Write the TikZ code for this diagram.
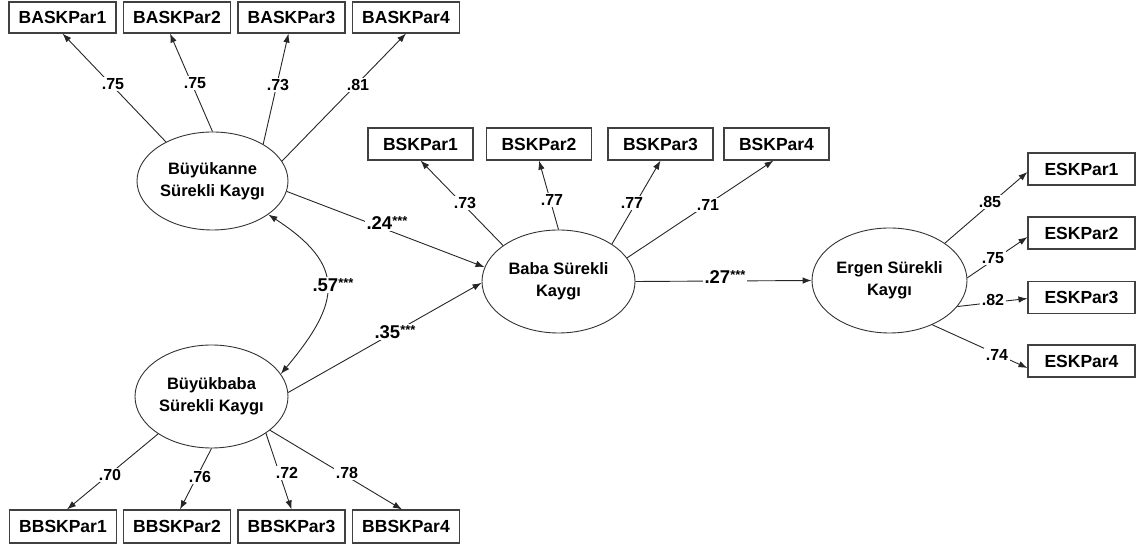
\documentclass[tikz,border=0pt]{standalone}
\usepackage{fontspec}
\setmainfont{Liberation Sans}
\usetikzlibrary{arrows.meta,shapes.geometric}
\tikzset{
  obs/.style={draw=black!75, line width=1.1pt, rectangle, minimum width=107pt, minimum height=31pt, inner sep=0pt, font=\bfseries\fontsize{17.5}{20}\selectfont},
  lat/.style={draw=black!80, line width=0.9pt, ellipse, inner xsep=-6pt, inner ysep=0pt, align=center, font=\bfseries\fontsize{16.5}{22}\selectfont},
  conn/.style={draw=black!85, line width=0.9pt, -{Latex[length=9pt,width=6.5pt]}},
  biconn/.style={draw=black!85, line width=0.9pt, {Latex[length=9pt,width=6.5pt]}-{Latex[length=9pt,width=6.5pt]}},
  load/.style={fill=white, inner sep=1.5pt, font=\bfseries\fontsize{16}{18}\selectfont},
  path/.style={fill=white, inner sep=1.5pt, font=\bfseries\fontsize{18.5}{20}\selectfont}
}
\newcommand{\stars}{\raisebox{4pt}{\fontsize{13}{13}\selectfont ***}}
\begin{document}
\begin{tikzpicture}[x=1pt,y=1pt]
\useasboundingbox (0,0) rectangle (1142,548);
% observed boxes
\node[obs] (a1) at (62.5,530.5) {BASKPar1};
\node[obs] (a2) at (177,530.5) {BASKPar2};
\node[obs] (a3) at (291.5,530.5) {BASKPar3};
\node[obs] (a4) at (406,530.5) {BASKPar4};
\node[obs, minimum width=105pt, minimum height=32pt] (b1) at (420.5,404) {BSKPar1};
\node[obs, minimum width=105pt, minimum height=32pt] (b2) at (539,404) {BSKPar2};
\node[obs, minimum width=105pt, minimum height=32pt] (b3) at (660.5,404) {BSKPar3};
\node[obs, minimum width=105pt, minimum height=32pt] (b4) at (776.5,404) {BSKPar4};
\node[obs, minimum height=32pt] (e1) at (1081.5,379) {ESKPar1};
\node[obs, minimum height=32pt] (e2) at (1081.5,315) {ESKPar2};
\node[obs, minimum height=32pt] (e3) at (1081.5,250.5) {ESKPar3};
\node[obs, minimum height=32pt] (e4) at (1081.5,187) {ESKPar4};
\node[obs, minimum height=33pt] (g1) at (63,21.5) {BBSKPar1};
\node[obs, minimum height=33pt] (g2) at (177,21.5) {BBSKPar2};
\node[obs, minimum height=33pt] (g3) at (291.5,21.5) {BBSKPar3};
\node[obs, minimum height=33pt] (g4) at (406,21.5) {BBSKPar4};
% latent ellipses
\node[lat, minimum width=151pt, minimum height=98pt] (bka) at (212.5,367) {Büyükanne\\Sürekli Kaygı};
\node[lat, minimum width=153pt, minimum height=103pt] (bkb) at (211.5,151.5) {Büyükbaba\\Sürekli Kaygı};
\node[lat, minimum width=153pt, minimum height=103pt] (baba) at (558.5,266.5) {Baba Sürekli\\Kaygı};
\node[lat, minimum width=155pt, minimum height=105pt] (erg) at (889.5,267.5) {Ergen Sürekli\\Kaygı};
% loadings Büyükanne
\draw[conn] (bka.140) -- (a1.south);
\draw[conn] (bka.90) -- ([xshift=-7pt]a2.south);
\draw[conn] (bka.36) -- ([xshift=-3pt]a3.south);
\draw[conn] (bka.16) -- (a4.south);
% loadings Baba
\draw[conn] (baba.147) -- (b1.south);
\draw[conn] (baba.90) -- (b2.south);
\draw[conn] (baba.35) -- (b3.south);
\draw[conn] (baba.19) -- ([xshift=-3pt]b4.south);
% loadings Ergen
\draw[conn] (erg.34) -- ([yshift=-3pt]e1.west);
\draw[conn] (erg.2) -- ([yshift=-4pt]e2.west);
\draw[conn] (erg.-21) -- ([yshift=-1pt]e3.west);
\draw[conn] (erg.-46) -- ([yshift=-7pt]e4.west);
% loadings Büyükbaba
\draw[conn] (bkb.-145) -- ([xshift=4pt]g1.north);
\draw[conn] (bkb.-90) -- ([xshift=3pt]g2.north);
\draw[conn] (bkb.-34) -- (g3.north);
\draw[conn] (bkb.-30) -- ([xshift=-4pt]g4.north);
% structural paths
\draw[conn] (bka.-8) -- (baba.169);
\draw[conn] (bkb.3) -- (baba.181);
\draw[conn] (baba.east) -- (erg.west);
\draw[biconn] (bka.-31) to[out=-33,in=50,looseness=1.5] (bkb.18);
% labels
\node[load] (l1) at (113,464) {.75};
\node[load] (l2) at (195,465) {.75};
\node[load] (l3) at (278,463) {.73};
\node[load] (l4) at (358,463) {.81};
\node[load] (m1) at (465,345) {.73};
\node[load] (m2) at (552,348) {.77};
\node[load] (m3) at (632,345) {.77};
\node[load] (m4) at (708,343) {.71};
\node[load] (n1) at (990,346) {.85};
\node[load] (n2) at (993,290) {.75};
\node[load] (n3) at (993,248) {.82};
\node[load] (n4) at (997,193) {.74};
\node[load] (o1) at (110,73) {.70};
\node[load] (o2) at (200,71) {.76};
\node[load] (o3) at (287,75) {.72};
\node[load] (o4) at (347,75) {.78};
\node[path] (p24) at (387,325) {.24\stars};
\node[path] (p35) at (395,216) {.35\stars};
\node[path] (p57) at (333,263) {.57\stars};
\node[path] (p27) at (725,271) {.27\stars};
\end{tikzpicture}
\end{document}
